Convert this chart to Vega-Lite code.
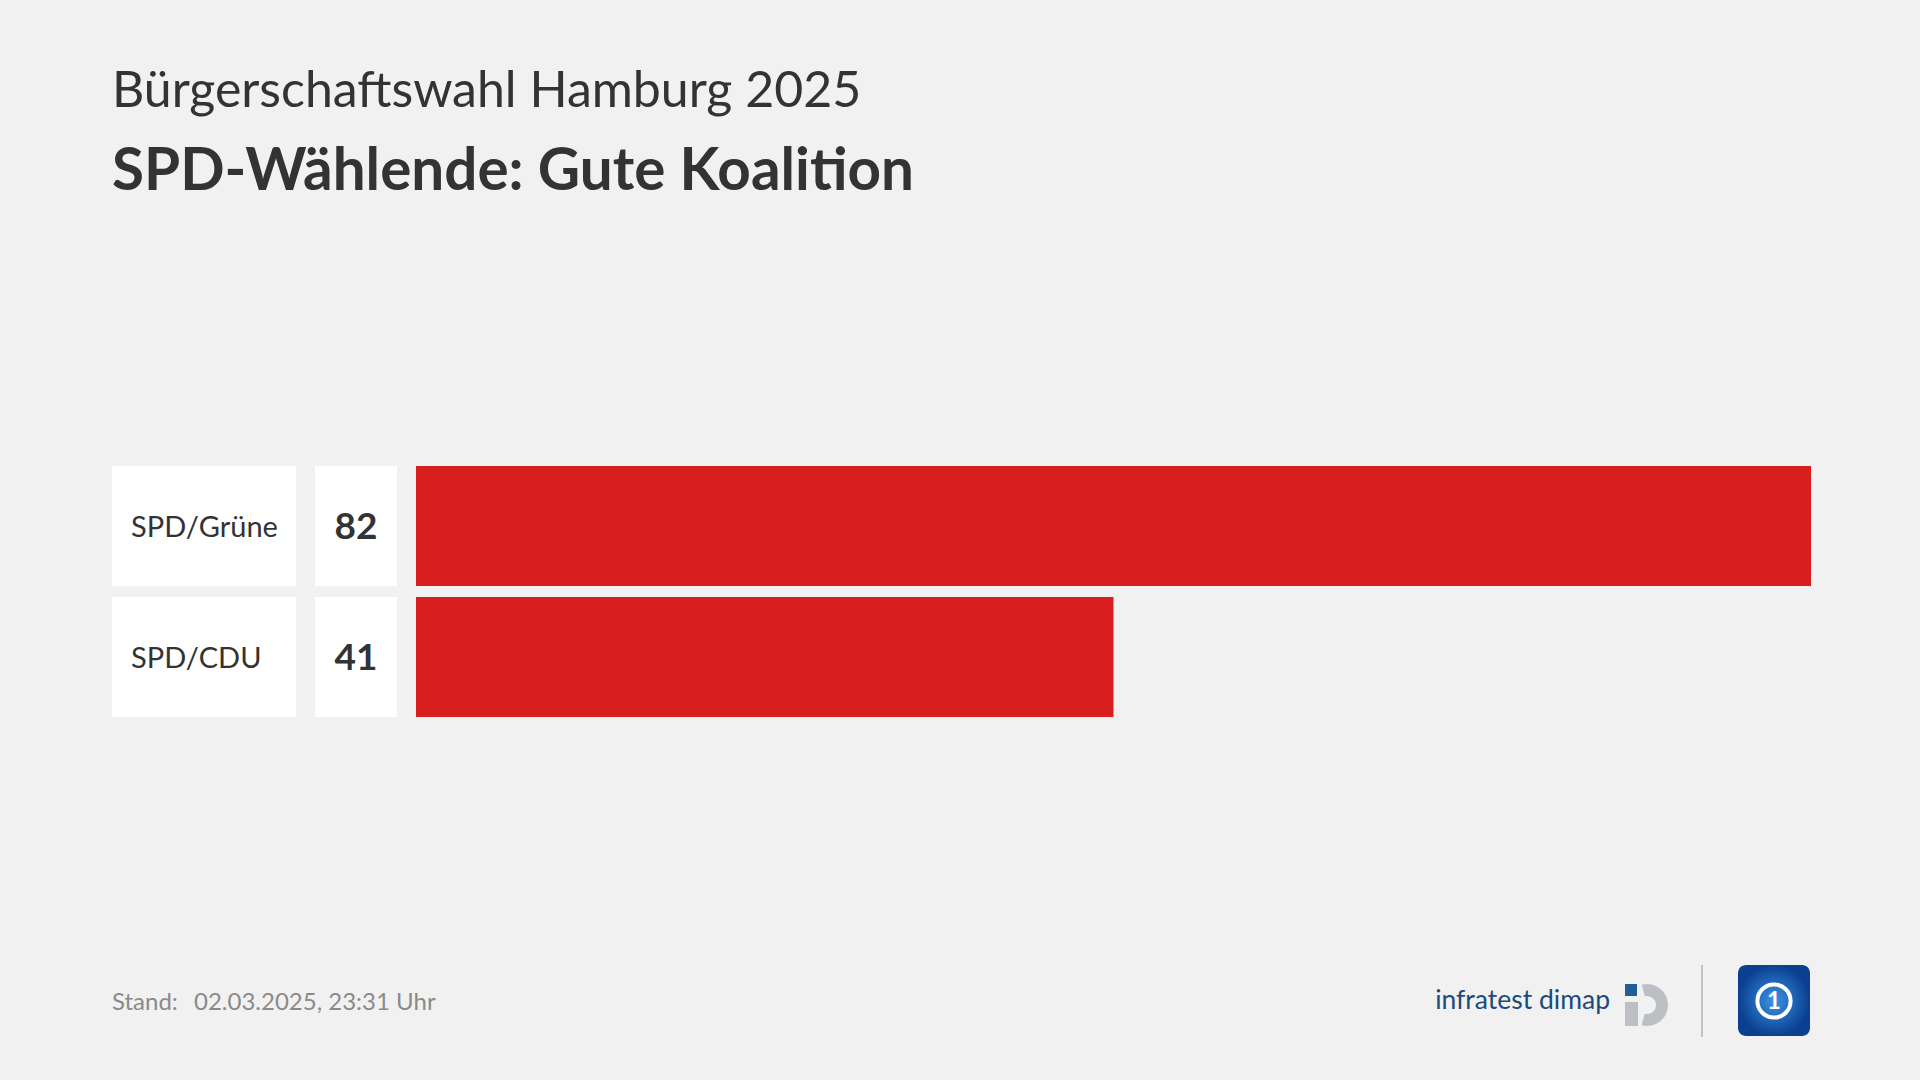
{
  "$schema": "https://vega.github.io/schema/vega-lite/v6.json",
  "background": "#f1f1f1",
  "padding": {"left": 112, "top": 66, "right": 109, "bottom": 43},
  "config": {"view": {"stroke": null}, "concat": {"spacing": 19}},
  "title": {
    "text": "Bürgerschaftswahl Hamburg 2025",
    "subtitle": "SPD-Wählende: Gute Koalition",
    "anchor": "start",
    "frame": "group",
    "font": "Lato",
    "fontSize": 50,
    "fontWeight": "normal",
    "color": "#333333",
    "subtitleFont": "Lato",
    "subtitleFontSize": 58.4,
    "subtitleFontWeight": "bold",
    "subtitleColor": "#333333",
    "subtitlePadding": 27,
    "offset": 265
  },
  "datasets": {
    "main": [
      {"koalition": "SPD/Grüne", "wert": 82},
      {"koalition": "SPD/CDU", "wert": 41}
    ],
    "footer": [
      {"stand": "Stand:", "datum": "02.03.2025, 23:31 Uhr", "institut": "infratest dimap", "eins": "1"}
    ]
  },
  "vconcat": [
    {
      "hconcat": [
        {
          "width": 184,
          "height": 251,
          "data": {"name": "main"},
          "layer": [
            {
              "mark": {"type": "rect", "color": "#ffffff"},
              "encoding": {
                "x": {"value": 0},
                "x2": {"value": "width"},
                "y": {"field": "koalition", "type": "nominal", "sort": null, "scale": {"paddingInner": 0.084, "paddingOuter": 0}, "axis": null}
              }
            },
            {
              "mark": {"type": "text", "align": "left", "baseline": "middle", "x": 19, "dy": 2, "font": "Lato", "fontSize": 29, "color": "#333333"},
              "encoding": {
                "y": {"field": "koalition", "type": "nominal", "sort": null, "scale": {"paddingInner": 0.084, "paddingOuter": 0}, "axis": null},
                "text": {"field": "koalition"}
              }
            }
          ]
        },
        {
          "width": 82,
          "height": 251,
          "data": {"name": "main"},
          "layer": [
            {
              "mark": {"type": "rect", "color": "#ffffff"},
              "encoding": {
                "x": {"value": 0},
                "x2": {"value": "width"},
                "y": {"field": "koalition", "type": "nominal", "sort": null, "scale": {"paddingInner": 0.084, "paddingOuter": 0}, "axis": null}
              }
            },
            {
              "mark": {"type": "text", "align": "center", "baseline": "middle", "x": 41, "dy": 2, "font": "Lato", "fontSize": 37, "fontWeight": "bold", "color": "#333333"},
              "encoding": {
                "y": {"field": "koalition", "type": "nominal", "sort": null, "scale": {"paddingInner": 0.084, "paddingOuter": 0}, "axis": null},
                "text": {"field": "wert"}
              }
            }
          ]
        },
        {
          "width": 1395,
          "height": 251,
          "data": {"name": "main"},
          "mark": {"type": "bar", "color": "#d71f1f"},
          "encoding": {
            "x": {"field": "wert", "type": "quantitative", "scale": {"nice": false, "zero": true}, "axis": null},
            "y": {"field": "koalition", "type": "nominal", "sort": null, "scale": {"paddingInner": 0.084, "paddingOuter": 0}, "axis": null}
          }
        }
      ]
    },
    {
      "width": 1699,
      "height": 72,
      "data": {"name": "footer"},
      "layer": [
        {
          "mark": {"type": "text", "align": "left", "baseline": "middle", "font": "Lato", "fontSize": 24, "color": "#8a8a8a"},
          "encoding": {"x": {"value": 0}, "y": {"value": 38}, "text": {"field": "stand"}}
        },
        {
          "mark": {"type": "text", "align": "left", "baseline": "middle", "font": "Lato", "fontSize": 24, "color": "#8a8a8a"},
          "encoding": {"x": {"value": 82}, "y": {"value": 38}, "text": {"field": "datum"}}
        },
        {
          "mark": {"type": "text", "align": "right", "baseline": "middle", "font": "Lato", "fontSize": 26.5, "color": "#1b4b7c"},
          "encoding": {"x": {"value": 1498}, "y": {"value": 36}, "text": {"field": "institut"}}
        },
        {
          "mark": {"type": "arc", "color": "#bcc0c4", "innerRadius": 9, "outerRadius": 21, "theta": -0.25, "theta2": 3.4},
          "encoding": {"x": {"value": 1535}, "y": {"value": 40}}
        },
        {
          "mark": {"type": "rect", "color": "#bcc0c4"},
          "encoding": {"x": {"value": 1513}, "x2": {"value": 1526}, "y": {"value": 37}, "y2": {"value": 61}}
        },
        {
          "mark": {"type": "rect", "color": "#1f5f99"},
          "encoding": {"x": {"value": 1513}, "x2": {"value": 1525}, "y": {"value": 19}, "y2": {"value": 31}}
        },
        {
          "mark": {"type": "rule", "color": "#c4c4c4", "strokeWidth": 2},
          "encoding": {"x": {"value": 1590}, "y": {"value": 0}, "y2": {"value": 72}}
        },
        {
          "mark": {"type": "rect", "cornerRadius": 8, "color": {"gradient": "radial", "stops": [{"offset": 0, "color": "#3a93e6"}, {"offset": 1, "color": "#0b3f8f"}]}},
          "encoding": {"x": {"value": 1626}, "x2": {"value": 1698}, "y": {"value": 0}, "y2": {"value": 71}}
        },
        {
          "mark": {"type": "point", "shape": "circle", "size": 1100, "filled": false, "stroke": "#ffffff", "strokeWidth": 4, "opacity": 1},
          "encoding": {"x": {"value": 1662}, "y": {"value": 36}}
        },
        {
          "mark": {"type": "text", "align": "center", "baseline": "middle", "font": "Lato", "fontSize": 24, "fontWeight": "bold", "color": "#ffffff"},
          "encoding": {"x": {"value": 1662}, "y": {"value": 37}, "text": {"field": "eins"}}
        }
      ]
    }
  ],
  "spacing": 247
}
